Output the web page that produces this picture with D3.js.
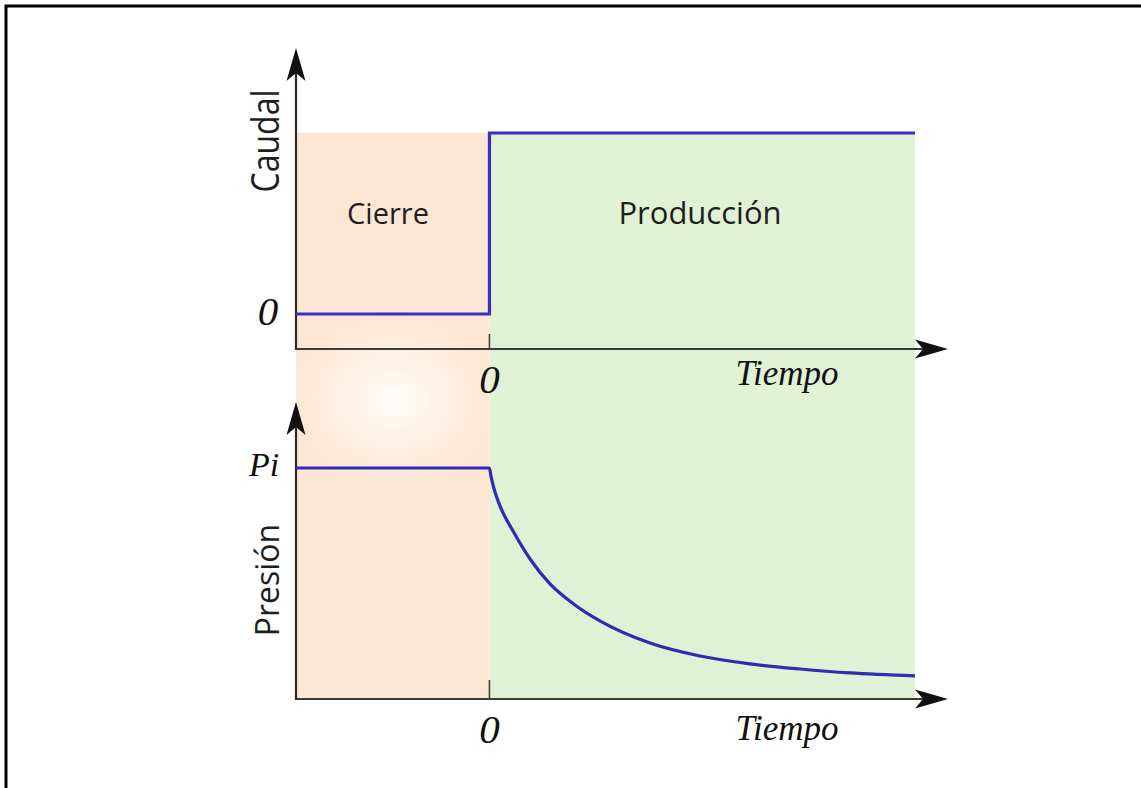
<!DOCTYPE html>
<meta charset="utf-8">
<style>
body { margin: 0; background: #fff; overflow: hidden; }
svg { display: block; }
.sans { font-family: "Open Sans", sans-serif; fill: #1e1e1e; }
.serif { font-family: "Liberation Serif", "DejaVu Serif", serif; font-style: italic; fill: #111; }
</style>
<body>
<script src="https://d3js.org/d3.v7.min.js"></script>
<script>
// fases del ensayo (tiempo en unidades arbitrarias)
var fases = ["Cierre", "Producción"];
var faseInicio = [-1, 0];
var faseFin = [0, 2.2];

// caudal: cero durante el cierre, constante en producción
var tiempoCaudal = [-1, 0, 0, 2.2];
var caudal = [0, 0, 1, 1];

// presión: Pi durante el cierre, declina en producción
var tiempoPresion = [-1, 0, 0.008, 0.024, 0.055, 0.122, 0.21, 0.313, 0.442, 0.571, 0.83, 1.088, 1.347, 1.605, 1.864, 2.2];
var presion = [1, 1, 0.965, 0.909, 0.835, 0.727, 0.606, 0.498, 0.407, 0.338, 0.242, 0.186, 0.152, 0.130, 0.113, 0.100];

var width = 1141, height = 788;

var svg = d3.select("body").append("svg")
    .attr("width", width)
    .attr("height", height);

var x = d3.scaleLinear().domain([-1, 2.2]).range([296, 915]);
var yQ = d3.scaleLinear().domain([0, 1]).range([314, 133]);
var yP = d3.scaleLinear().domain([0, 1]).range([699, 468]);

var axisTop = 349, axisBot = 699;

var defs = svg.append("defs");
var glow = defs.append("radialGradient").attr("id", "glow");
glow.append("stop").attr("offset", "0%").attr("stop-color", "#fff").attr("stop-opacity", 0.95);
glow.append("stop").attr("offset", "40%").attr("stop-color", "#fff").attr("stop-opacity", 0.5);
glow.append("stop").attr("offset", "100%").attr("stop-color", "#fff").attr("stop-opacity", 0);

// marco del recuadro
svg.append("path")
    .attr("d", "M6,790 V6 H1145")
    .attr("fill", "none")
    .attr("stroke", "#000")
    .attr("stroke-width", 3);

// zonas coloreadas
var colores = ["#fde6d3", "#e0f1d5"];
svg.selectAll(".fase")
    .data(fases)
  .enter().append("rect")
    .attr("class", "fase")
    .attr("x", function(d, i) { return x(faseInicio[i]); })
    .attr("width", function(d, i) { return x(faseFin[i]) - x(faseInicio[i]); })
    .attr("y", yQ(1))
    .attr("height", axisBot - yQ(1))
    .attr("fill", function(d, i) { return colores[i]; });

svg.append("ellipse")
    .attr("cx", 393).attr("cy", 400)
    .attr("rx", 105).attr("ry", 85)
    .attr("fill", "url(#glow)");

svg.selectAll(".faseLabel")
    .data(fases)
  .enter().append("text")
    .attr("class", "sans")
    .attr("x", function(d, i) { return i == 0 ? 388 : 700; })
    .attr("y", 224)
    .attr("text-anchor", "middle")
    .attr("font-size", function(d, i) { return i == 0 ? "29px" : "31px"; })
    .text(function(d) { return d; });

// flechas
function arrow(tx, ty, angle) {
  svg.append("path")
      .attr("d", "M0,0 L-33,-9.5 L-25,0 L-33,9.5 Z")
      .attr("transform", "translate(" + tx + "," + ty + ") rotate(" + angle + ")")
      .attr("fill", "#111");
}

function ejes(yBase, yTop, tickLen) {
  svg.append("line")
      .attr("x1", x(-1)).attr("x2", 930)
      .attr("y1", yBase).attr("y2", yBase)
      .attr("stroke", "#3a3a3a").attr("stroke-width", 2.2);
  svg.append("line")
      .attr("x1", x(-1)).attr("x2", x(-1))
      .attr("y1", yBase + 1).attr("y2", yTop + 16)
      .attr("stroke", "#2a2a2a").attr("stroke-width", 2.2);
  svg.append("line")
      .attr("x1", x(0)).attr("x2", x(0))
      .attr("y1", yBase).attr("y2", yBase - tickLen)
      .attr("stroke", "#444").attr("stroke-width", 1.6);
  arrow(948, yBase, 0);
  arrow(x(-1), yTop, -90);
}

ejes(axisTop, 48, 15);
ejes(axisBot, 402, 19);

var linea = d3.line()
    .x(function(d) { return x(d[0]); })
    .y(function(d) { return d[1]; });

svg.append("path")
    .attr("d", linea(tiempoCaudal.map(function(t, i) { return [t, yQ(caudal[i])]; })))
    .attr("fill", "none")
    .attr("stroke", "#3b30c4")
    .attr("stroke-width", 3.2);

svg.append("path")
    .attr("d", linea.curve(d3.curveMonotoneX)(tiempoPresion.map(function(t, i) { return [t, yP(presion[i])]; })))
    .attr("fill", "none")
    .attr("stroke", "#2e2cb4")
    .attr("stroke-width", 3.2);

// rótulos de ejes
svg.append("text")
    .attr("class", "sans")
    .attr("transform", "translate(279,141) rotate(-90) scale(1,1.2)")
    .attr("text-anchor", "middle")
    .attr("font-size", "32px")
    .text("Caudal");

svg.append("text")
    .attr("class", "sans")
    .attr("transform", "translate(279,580) rotate(-90)")
    .attr("text-anchor", "middle")
    .attr("font-size", "32px")
    .text("Presión");

svg.append("text").attr("class", "serif")
    .attr("x", 268).attr("y", 325)
    .attr("text-anchor", "middle")
    .attr("font-size", "41px")
    .text("0");

svg.append("text").attr("class", "serif")
    .attr("x", 264).attr("y", 476)
    .attr("text-anchor", "middle")
    .attr("font-size", "34px")
    .text("Pi");

[[axisTop, 393, 385], [axisBot, 743, 740]].forEach(function(p) {
  svg.append("text").attr("class", "serif")
      .attr("x", x(0)).attr("y", p[1])
      .attr("text-anchor", "middle")
      .attr("font-size", "41px")
      .text("0");
  svg.append("text").attr("class", "serif")
      .attr("x", 787).attr("y", p[2])
      .attr("text-anchor", "middle")
      .attr("font-size", "35px")
      .text("Tiempo");
});
</script>
